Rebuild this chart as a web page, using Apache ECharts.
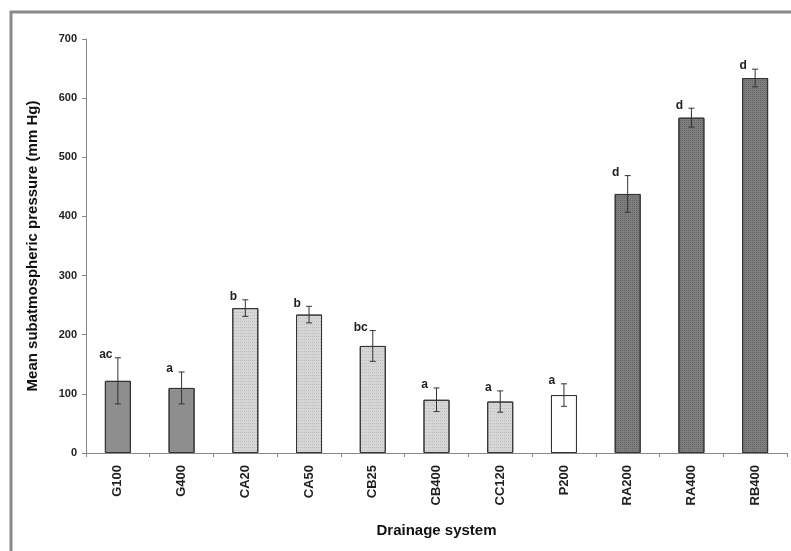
<!DOCTYPE html>
<html>
<head>
<meta charset="utf-8">
<style>
  html, body { margin: 0; padding: 0; background: #fff; }
  #chart { width: 791px; height: 551px; }
</style>
<script src="https://cdn.jsdelivr.net/npm/echarts@6/dist/echarts.min.js"></script>
</head>
<body>
<div id="chart"></div>
<script>
// drainage systems and the group each belongs to
var categories = ['G100', 'G400', 'CA20', 'CA50', 'CB25', 'CB400', 'CC120', 'P200', 'RA200', 'RA400', 'RB400'];
var groups     = ['G', 'G', 'C', 'C', 'C', 'C', 'C', 'P', 'R', 'R', 'R'];
// mean subatmospheric pressure (mm Hg)
var means      = [122, 110, 245, 234, 181, 90, 87, 98, 438, 567, 634];
// error (half width of the bar)
var errors     = [39, 27, 14, 14, 26, 20, 18, 19, 31, 16, 15];
// significance letters
var letters    = ['ac', 'a', 'b', 'b', 'bc', 'a', 'a', 'a', 'd', 'd', 'd'];
var yTicks     = [0, 100, 200, 300, 400, 500, 600, 700];

var noDecal = { symbol: 'rect', color: 'rgba(0,0,0,0)' };
var fills = {
  G: { color: '#8e8e8e', decal: noDecal },
  C: { color: '#d6d6d6', decal: { symbol: 'rect', symbolSize: 1, dashArrayX: [1, 1], dashArrayY: [1, 2], color: 'rgba(150,150,150,0.35)' } },
  P: { color: '#ffffff', decal: noDecal },
  R: { color: '#7e7e7e', decal: { symbol: 'rect', symbolSize: 1, dashArrayX: [1, 1], dashArrayY: [1, 1], color: 'rgba(60,60,60,0.35)' } }
};

var barData = means.map(function (v, i) {
  var f = fills[groups[i]];
  return { value: v, itemStyle: { color: f.color, borderColor: '#333', borderWidth: 1, decal: f.decal } };
});

var errData = means.map(function (v, i) {
  return [i, v - errors[i], v + errors[i]];
});

var font = 'Liberation Sans';

var chart = echarts.init(document.getElementById('chart'));
chart.setOption({
  backgroundColor: '#fff',
  aria: { enabled: true, decal: { show: true } },
  animation: false,
  graphic: [{
    type: 'rect',
    shape: { x: 11, y: 12, width: 820, height: 600 },
    style: { fill: 'none', stroke: '#8a8a8a', lineWidth: 3 }
  }],
  grid: { left: 86, right: 4, top: 39, bottom: 98 },
  xAxis: {
    type: 'category',
    data: categories,
    name: 'Drainage system',
    nameLocation: 'middle',
    nameGap: 70,
    nameTextStyle: { fontFamily: font, fontWeight: 'bold', fontSize: 15, color: '#111' },
    axisLine: { lineStyle: { color: '#888', width: 1 } },
    axisTick: { show: true, length: 4, lineStyle: { color: '#888' } },
    axisLabel: { rotate: 90, margin: 12, fontFamily: font, fontWeight: 'bold', fontSize: 13, color: '#222' }
  },
  yAxis: {
    type: 'value',
    min: 0,
    max: 700,
    interval: 100,
    name: 'Mean subatmospheric pressure (mm Hg)',
    nameLocation: 'middle',
    nameGap: 46,
    nameTextStyle: { fontFamily: font, fontWeight: 'bold', fontSize: 15, color: '#111' },
    axisLine: { show: true, lineStyle: { color: '#888', width: 1 } },
    axisTick: { show: true, length: 4, lineStyle: { color: '#888' } },
    splitLine: { show: false },
    axisLabel: {
      margin: 9,
      fontFamily: font, fontWeight: 'bold', fontSize: 11, color: '#222',
      formatter: function (v) { return yTicks.indexOf(v) >= 0 ? String(v) : ''; }
    }
  },
  series: [
    {
      type: 'bar',
      data: barData,
      barWidth: 26
    },
    {
      type: 'custom',
      data: errData,
      z: 10,
      renderItem: function (params, api) {
        var i = api.value(0);
        var lo = api.coord([i, api.value(1)]);
        var hi = api.coord([i, api.value(2)]);
        var cap = 3;
        var st = { stroke: '#333', lineWidth: 1 };
        return {
          type: 'group',
          children: [
            { type: 'line', shape: { x1: hi[0], y1: hi[1], x2: lo[0], y2: lo[1] }, style: st },
            { type: 'line', shape: { x1: hi[0] - cap, y1: hi[1], x2: hi[0] + cap, y2: hi[1] }, style: st },
            { type: 'line', shape: { x1: lo[0] - cap, y1: lo[1], x2: lo[0] + cap, y2: lo[1] }, style: st },
            {
              type: 'text',
              x: hi[0] - 12,
              y: hi[1] - 3,
              style: {
                text: letters[i],
                fontFamily: font, fontWeight: 'bold', fontSize: 12,
                fill: '#222', align: 'center', verticalAlign: 'middle'
              }
            }
          ]
        };
      }
    }
  ]
});
</script>
</body>
</html>
